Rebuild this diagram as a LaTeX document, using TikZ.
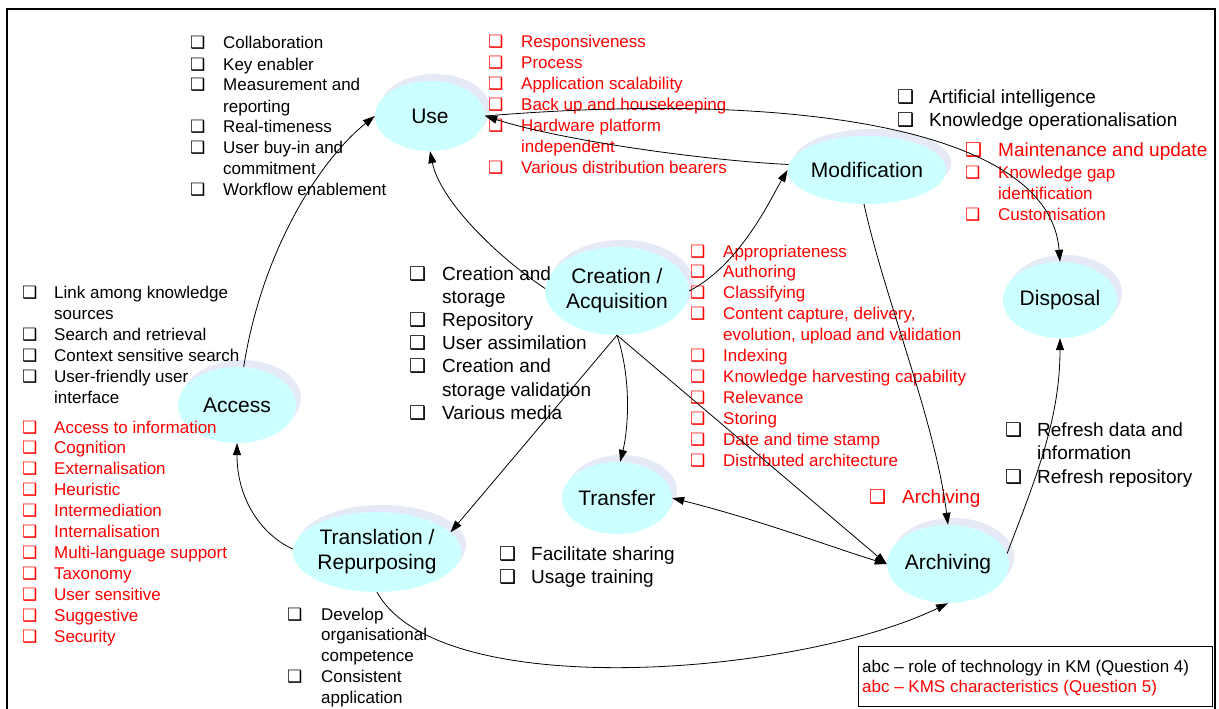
\documentclass[tikz,border=0pt]{standalone}
\usepackage{fontspec}
\setmainfont{Liberation Sans}
\newfontfamily\dejavu{DejaVu Sans}
\usetikzlibrary{shapes.geometric,arrows.meta,shadows}
\definecolor{nodefill}{HTML}{CCFFFF}
\definecolor{nodeshadow}{HTML}{E6EAF6}
\definecolor{kred}{HTML}{FF0000}
\newcommand\fs[2]{\fontsize{#1}{#2}\selectfont}
\newcommand\bx{{\dejavu\bfseries ❑}}
\tikzset{
  stage/.style={ellipse, fill=nodefill, inner sep=0pt, align=center,
    font=\fs{21}{25},
    general shadow={fill=nodeshadow, shadow xshift=5pt, shadow yshift=7pt}},
  txt/.style={inner sep=0pt, anchor=base west},
  redtxt/.style={txt, text=kred},
  arr/.style={line width=0.8pt, -{Triangle[length=12pt,width=8pt]}},
  darr/.style={line width=0.8pt, {Triangle[length=12pt,width=8pt]}-{Triangle[length=12pt,width=8pt]}}
}
\begin{document}
\begin{tikzpicture}[x=1pt,y=1pt]
\useasboundingbox (0,0) rectangle (1219,-709);
\fill[white] (0,0) rectangle (1219,-709);
\draw[line width=1.3pt] (7,-9) rectangle (1215,-730);

% stages
\node[stage, minimum width=110pt, minimum height=70pt] (use) at (430,-116) {Use};
\node[stage, minimum width=152pt, minimum height=68pt] (modification) at (867,-170) {Modification};
\node[stage, minimum width=140pt, minimum height=88pt] (creation) at (617,-291) {Creation /\\Acquisition};
\node[stage, minimum width=114pt, minimum height=76pt] (disposal) at (1060,-300) {Disposal};
\node[stage, minimum width=118pt, minimum height=76pt] (access) at (237,-405) {Access};
\node[stage, minimum width=110pt, minimum height=72pt] (transfer) at (617,-498) {Transfer};
\node[stage, minimum width=162pt, minimum height=80pt] (translation) at (377,-552) {Translation /\\Repurposing};
\node[stage, minimum width=120pt, minimum height=78pt] (archiving) at (948,-564) {Archiving};

% text blocks
\node[txt] (useq4) at (190,-49) {\fs{17}{21}\begin{tabular}[t]{@{}p{33pt}@{}l@{}}
\bx & Collaboration\\
\bx & Key enabler\\
\bx & Measurement and\\
    & reporting\\
\bx & Real-timeness\\
\bx & User buy-in and\\
    & commitment\\
\bx & Workflow enablement
\end{tabular}};

\node[redtxt] (useq5) at (488,-48) {\fs{17}{21}\begin{tabular}[t]{@{}p{33pt}@{}l@{}}
\bx & Responsiveness\\
\bx & Process\\
\bx & Application scalability\\
\bx & Back up and housekeeping\\
\bx & Hardware platform\\
    & independent\\
\bx & Various distribution bearers
\end{tabular}};

\node[txt] (modq4) at (897,-103) {\fs{19}{23}\begin{tabular}[t]{@{}p{32pt}@{}l@{}}
\bx & Artificial intelligence\\
\bx & Knowledge operationalisation
\end{tabular}};

\node[redtxt] (modq5a) at (965,-156) {\fs{19}{23}\begin{tabular}[t]{@{}p{33pt}@{}l@{}}
\bx & Maintenance and update
\end{tabular}};
\node[redtxt] (modq5b) at (965,-178) {\fs{17}{21}\begin{tabular}[t]{@{}p{33pt}@{}l@{}}
\bx & Knowledge gap\\
    & identification\\
\bx & Customisation
\end{tabular}};

\node[txt] (creq4) at (409,-280) {\fs{19}{23.2}\begin{tabular}[t]{@{}p{33pt}@{}l@{}}
\bx & Creation and\\
    & storage\\
\bx & Repository\\
\bx & User assimilation\\
\bx & Creation and\\
    & storage validation\\
\bx & Various media
\end{tabular}};

\node[txt] (accq4) at (22,-298) {\fs{17}{21}\begin{tabular}[t]{@{}p{32pt}@{}l@{}}
\bx & Link among knowledge\\
    & sources\\
\bx & Search and retrieval\\
\bx & Context sensitive search\\
\bx & User-friendly user\\
    & interface
\end{tabular}};

\node[redtxt] (accq5) at (22,-433) {\fs{17}{20.9}\begin{tabular}[t]{@{}p{32pt}@{}l@{}}
\bx & Access to information\\
\bx & Cognition\\
\bx & Externalisation\\
\bx & Heuristic\\
\bx & Intermediation\\
\bx & Internalisation\\
\bx & Multi-language support\\
\bx & Taxonomy\\
\bx & User sensitive\\
\bx & Suggestive\\
\bx & Security
\end{tabular}};

\node[redtxt] (creq5) at (690,-257) {\fs{17}{20.9}\begin{tabular}[t]{@{}p{33pt}@{}l@{}}
\bx & Appropriateness\\
\bx & Authoring\\
\bx & Classifying\\
\bx & Content capture, delivery,\\
    & evolution, upload and validation\\
\bx & Indexing\\
\bx & Knowledge harvesting capability\\
\bx & Relevance\\
\bx & Storing\\
\bx & Date and time stamp\\
\bx & Distributed architecture
\end{tabular}};

\node[redtxt] (arcq5) at (869,-503) {\fs{19}{23}\begin{tabular}[t]{@{}p{33pt}@{}l@{}}
\bx & Archiving
\end{tabular}};

\node[txt] (arcq4) at (1005,-436) {\fs{19}{23.5}\begin{tabular}[t]{@{}p{32pt}@{}l@{}}
\bx & Refresh data and\\
    & information\\
\bx & Refresh repository
\end{tabular}};

\node[txt] (traq4) at (499,-560) {\fs{19}{23}\begin{tabular}[t]{@{}p{32pt}@{}l@{}}
\bx & Facilitate sharing\\
\bx & Usage training
\end{tabular}};

\node[txt] (tlnq4) at (287,-620) {\fs{17}{20.8}\begin{tabular}[t]{@{}p{34pt}@{}l@{}}
\bx & Develop\\
    & organisational\\
    & competence\\
\bx & Consistent\\
    & application
\end{tabular}};

% legend
\node[draw, line width=1.2pt, anchor=north west, minimum width=354pt, minimum height=60pt, inner sep=0pt] (legend) at (858,-646) {};
\node[txt] (legendtext) at (862,-672) {\fs{17}{20}\begin{tabular}[t]{@{}l@{}}
abc -- role of technology in KM (Question 4)\\
\textcolor{kred}{abc -- KMS characteristics (Question 5)}
\end{tabular}};

% connectors
\draw[arr] (access.80) .. controls (262,-250) and (320,-160) .. (use.west);
\draw[arr] (creation.178) .. controls (495,-255) and (440,-200) .. (use.south);
\draw[arr] (creation.east) .. controls (740,-265) and (770,-200) .. (modification.west);
\draw[arr] (modification.176) .. controls (700,-160) and (560,-140) .. (use.east);
\draw[arr] (use.east) .. controls (800,-90) and (1050,-130) .. (disposal.north);
\draw[arr] (modification.265) .. controls (885,-300) and (935,-420) .. (archiving.north);
\draw[arr] (archiving.10) .. controls (1035,-480) and (1060,-420) .. (disposal.south);
\draw[arr] (creation.south) .. controls (632,-380) and (628,-430) .. (transfer.85);
\draw[arr] (creation.south) -- (archiving.west);
\draw[darr] (transfer.east) .. controls (760,-520) and (840,-550) .. (archiving.west);
\draw[arr] (creation.south) -- (translation.15);
\draw[arr] (translation.178) .. controls (262,-535) and (237,-500) .. (access.south);
\draw[arr] (translation.south) .. controls (440,-705) and (800,-675) .. (archiving.south);
\end{tikzpicture}
\end{document}
